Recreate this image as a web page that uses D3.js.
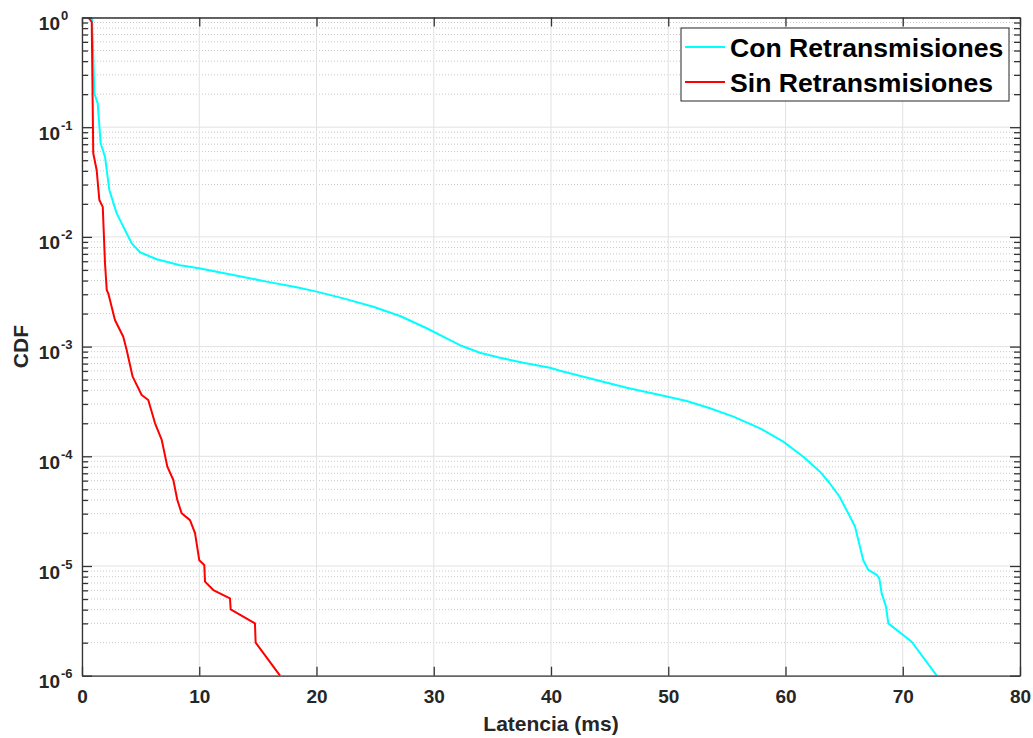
<!DOCTYPE html>
<html>
<head>
<meta charset="utf-8">
<script src="https://cdn.jsdelivr.net/npm/d3@7"></script>
<style>
  html, body { margin: 0; padding: 0; background: #fff; }
  svg { display: block; }
  text { font-family: "Liberation Sans", Arial, Helvetica, sans-serif; font-weight: bold; }
</style>
</head>
<body>
<svg id="chart" width="1033" height="738"></svg>
<script>
// ---- Data ----
const seriesNames = ["Con Retransmisiones", "Sin Retransmisiones"];
const seriesColors = ["#00ffff", "#ff0000"];

const conLatency = [0.85, 0.95, 1.05, 1.34, 1.59, 1.96, 2.33, 2.96, 3.52, 4.24, 4.95, 6.37, 8.36, 9.98,
  12.9, 15.75, 18.31, 20.02, 22.29, 24.84, 27.12, 29.4, 31.1, 32.24, 33.94, 35.65, 37.64, 39.91,
  40.77, 43.61, 46.46, 49.3, 51.57, 53.56, 55.55, 57.83, 59.81, 61.52, 62.94, 63.7, 64.6, 65.5,
  65.93, 66.21, 66.63, 67.06, 67.78, 68.0, 68.2, 68.57, 68.77, 70.76, 72.9];
const conCdf = [1, 0.5, 0.204, 0.165, 0.0713, 0.0538, 0.0268, 0.0164, 0.0124, 0.00874, 0.00724, 0.00625, 0.00551, 0.00517,
  0.00449, 0.00391, 0.00347, 0.00317, 0.00275, 0.00231, 0.0019, 0.00147, 0.00119, 0.00103, 0.00088, 0.000792, 0.000713, 0.000642,
  0.000603, 0.000503, 0.000422, 0.000362, 0.000319, 0.000274, 0.00023, 0.00018, 0.000136, 9.9e-5, 7.24e-5, 5.8e-5, 4.3e-5, 2.82e-5,
  2.28e-5, 1.73e-5, 1.13e-5, 9.2e-6, 8.3e-6, 7.7e-6, 5.63e-6, 4.26e-6, 3.0e-6, 2.04e-6, 1e-6];

const sinLatency = [0.55, 0.83, 0.96, 1.25, 1.48, 1.77, 1.96, 2.11, 2.24, 2.81, 3.52, 3.81, 4.32, 5.09, 5.65,
  6.23, 6.8, 7.28, 7.79, 8.13, 8.5, 9.21, 9.64, 10.0, 10.43, 10.49, 11.2, 12.62, 12.68, 14.75, 14.81, 16.89];
const sinCdf = [1, 0.91, 0.0578, 0.0407, 0.0217, 0.0188, 0.0058, 0.00328, 0.00306, 0.00175, 0.00123, 0.000931, 0.000532, 0.000362, 0.000326,
  0.0002, 0.000141, 8.04e-5, 6.08e-5, 4.0e-5, 3.02e-5, 2.62e-5, 1.99e-5, 1.13e-5, 1.02e-5, 7.2e-6, 6.04e-6, 5.07e-6, 4.03e-6, 3e-6, 2e-6, 1e-6];

const xTicks = [0, 10, 20, 30, 40, 50, 60, 70, 80];
const yTickExponents = [0, -1, -2, -3, -4, -5, -6];
const xLabel = "Latencia (ms)";
const yLabel = "CDF";

// ---- Layout ----
const svg = d3.select("#chart");
const pLeft = 82, pRight = 1020, pTop = 17.5, pBottom = 675.7;
const x = d3.scaleLinear().domain([0, 80]).range([pLeft, pRight]);
const y = d3.scaleLog().domain([1e-6, 1]).range([pBottom, pTop]);

const axisColor = "#262626";
const lineColor = "#333";

// minor y values
const minorY = [];
for (let e = -6; e < 0; e++) for (let k = 2; k <= 9; k++) minorY.push(k * Math.pow(10, e));
const majorY = yTickExponents.map(e => Math.pow(10, e));

const grid = svg.append("g");
grid.selectAll("line.minor").data(minorY).join("line")
  .attr("x1", pLeft).attr("x2", pRight)
  .attr("y1", d => y(d)).attr("y2", d => y(d))
  .attr("stroke", "#c9c9c9").attr("stroke-width", 1).attr("stroke-dasharray", "1,2");
grid.selectAll("line.majy").data(majorY).join("line")
  .attr("x1", pLeft).attr("x2", pRight)
  .attr("y1", d => y(d)).attr("y2", d => y(d))
  .attr("stroke", "#e2e2e2").attr("stroke-width", 1);
grid.selectAll("line.majx").data(xTicks).join("line")
  .attr("x1", d => x(d)).attr("x2", d => x(d))
  .attr("y1", pTop).attr("y2", pBottom)
  .attr("stroke", "#e2e2e2").attr("stroke-width", 1);

// ---- Curves ----
svg.append("clipPath").attr("id", "clip").append("rect")
  .attr("x", pLeft).attr("y", pTop).attr("width", pRight - pLeft).attr("height", pBottom - pTop);

const line = d3.line().x(d => x(d[0])).y(d => y(d[1]));
const series = [
  d3.zip(conLatency, conCdf),
  d3.zip(sinLatency, sinCdf)
];
svg.append("g").attr("clip-path", "url(#clip)")
  .selectAll("path").data(series).join("path")
  .attr("d", line)
  .attr("fill", "none")
  .attr("stroke", (d, i) => seriesColors[i])
  .attr("stroke-width", 2)
  .attr("stroke-linejoin", "round");

// ---- Axes ----
const axG = svg.append("g");
function styleAxis(g) {
  g.select(".domain").attr("stroke", lineColor).attr("stroke-width", 1.3);
  g.selectAll(".tick line").attr("stroke", lineColor).attr("stroke-width", 1.3);
}
// bottom axis
const gx = axG.append("g").attr("transform", `translate(0,${pBottom})`)
  .call(d3.axisBottom(x).tickValues(xTicks).tickSizeInner(-9).tickSizeOuter(0).tickPadding(14));
styleAxis(gx);
gx.selectAll(".tick text").attr("font-size", 19).attr("fill", axisColor)
  .attr("font-family", "'Liberation Sans', Arial, sans-serif").attr("font-weight", "bold");

// top axis (ticks only)
const gxt = axG.append("g").attr("transform", `translate(0,${pTop})`)
  .call(d3.axisTop(x).tickValues(xTicks).tickSizeInner(-9).tickSizeOuter(0).tickFormat(""));
styleAxis(gxt);

// left axis
const gy = axG.append("g").attr("transform", `translate(${pLeft},0)`)
  .call(d3.axisLeft(y).tickValues(majorY).tickSizeInner(-10).tickSizeOuter(0).tickFormat(""));
styleAxis(gy);
const gyMinor = axG.append("g").attr("transform", `translate(${pLeft},0)`)
  .call(d3.axisLeft(y).tickValues(minorY).tickSizeInner(-6).tickSizeOuter(0).tickFormat(""));
gyMinor.select(".domain").remove();
styleAxis(gyMinor);

// right axis
const gyr = axG.append("g").attr("transform", `translate(${pRight},0)`)
  .call(d3.axisRight(y).tickValues(majorY).tickSizeInner(-10).tickSizeOuter(0).tickFormat(""));
styleAxis(gyr);
const gyrMinor = axG.append("g").attr("transform", `translate(${pRight},0)`)
  .call(d3.axisRight(y).tickValues(minorY).tickSizeInner(-6).tickSizeOuter(0).tickFormat(""));
gyrMinor.select(".domain").remove();
styleAxis(gyrMinor);

// y tick labels 10^e
const yl = svg.append("g");
yTickExponents.forEach(e => {
  yl.append("text")
    .attr("x", 60).attr("y", y(Math.pow(10, e)) + 12.5)
    .attr("text-anchor", "end")
    .attr("fill", axisColor).attr("font-size", 19)
    .text("10");
  yl.append("text")
    .attr("x", 61).attr("y", y(Math.pow(10, e)) + 2.5)
    .attr("text-anchor", "start")
    .attr("fill", axisColor).attr("font-size", 13)
    .text(String(e));
});

// axis labels
svg.append("text")
  .attr("x", (pLeft + pRight) / 2).attr("y", 731)
  .attr("text-anchor", "middle").attr("font-size", 21).attr("fill", axisColor)
  .text(xLabel);
svg.append("text")
  .attr("transform", `translate(28,${(pTop + pBottom) / 2}) rotate(-90)`)
  .attr("text-anchor", "middle").attr("font-size", 21).attr("fill", axisColor)
  .text(yLabel);

// ---- Legend ----
const lg = svg.append("g");
lg.append("rect").attr("x", 681).attr("y", 28).attr("width", 328).attr("height", 73)
  .attr("fill", "#fff").attr("stroke", "#262626").attr("stroke-width", 1);
seriesNames.forEach((name, i) => {
  const cy = 47 + i * 35;
  lg.append("line").attr("x1", 685).attr("x2", 725).attr("y1", cy).attr("y2", cy)
    .attr("stroke", seriesColors[i]).attr("stroke-width", 2);
  lg.append("text").attr("x", 730).attr("y", cy + 10)
    .attr("font-size", 26.6).attr("fill", "#000").text(name);
});
</script>
</body>
</html>
